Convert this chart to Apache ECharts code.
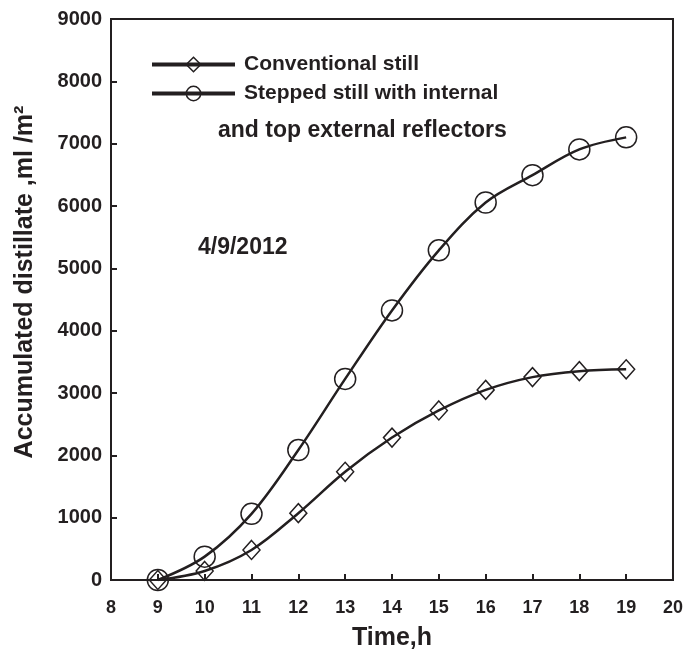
<!DOCTYPE html>
<html><head><meta charset="utf-8">
<script src="https://cdn.jsdelivr.net/npm/echarts@6/dist/echarts.min.js"></script>
<style>html,body{margin:0;padding:0;background:#fff}#c{width:686px;height:656px}</style>
</head><body><div id="c"></div>
<script>
var hours = [9, 10, 11, 12, 13, 14, 15, 16, 17, 18, 19];
var conventional = [0, 145, 482, 1072, 1736, 2285, 2720, 3050, 3255, 3350, 3380];
var stepped = [0, 375, 1061, 2085, 3226, 4325, 5289, 6056, 6495, 6908, 7101];
var seriesNames = ['Conventional still', 'Stepped still with internal'];
var legendExtra = 'and top external reflectors';
var dateLabel = '4/9/2012';
var xTitle = 'Time,h';
var yTitle = 'Accumulated distillate ,ml /m\u00B2';

var ink = '#231f20';
var font = '"Liberation Sans", Arial, sans-serif';

// detect a narrow face for the condensed x tick labels
function hasFont(name){
  var c = document.createElement('canvas').getContext('2d');
  c.font = 'bold 40px monospace'; var a = c.measureText('1313 Time').width;
  c.font = 'bold 40px "' + name + '", monospace'; var b = c.measureText('1313 Time').width;
  return Math.abs(a - b) > 0.5;
}
var narrow = hasFont('Liberation Sans Narrow');
var xLabFont = narrow ? '"Liberation Sans Narrow", sans-serif' : font;
var xLabSize = narrow ? 23 : 18;
var xTitleFont = narrow ? '"Liberation Sans Narrow", sans-serif' : font;
var xTitleSize = narrow ? 28 : 25;

function pts(arr){ return hours.map(function(h,i){ return [h, arr[i]]; }); }

var chart = echarts.init(document.getElementById('c'));
chart.setOption({
  animation: false,
  grid: { left: 111, right: 12, top: 19, bottom: 76, show: true, borderColor: ink, borderWidth: 2 },
  xAxis: {
    type: 'value', min: 8, max: 20, interval: 1,
    name: xTitle, nameLocation: 'middle', nameGap: 46,
    nameTextStyle: { fontFamily: xTitleFont, fontWeight: 'bold', fontSize: xTitleSize, color: ink },
    axisLine: { lineStyle: { color: ink, width: 2 } },
    axisTick: { inside: true, length: 6, lineStyle: { color: ink, width: 2 } },
    axisLabel: { fontFamily: xLabFont, fontWeight: 'bold', fontSize: xLabSize, color: ink, margin: 19 },
    splitLine: { show: false }
  },
  yAxis: {
    type: 'value', min: 0, max: 9000, interval: 1000,
    axisLine: { lineStyle: { color: ink, width: 2 } },
    axisTick: { inside: true, length: 6, lineStyle: { color: ink, width: 2 } },
    axisLabel: { fontFamily: font, fontWeight: 'bold', fontSize: 20, color: ink, margin: 9,
                 formatter: function(v){ return String(v); } },
    splitLine: { show: false }
  },
  legend: {
    orient: 'vertical', left: 145, top: 49, itemWidth: 83, itemHeight: 18, itemGap: 8,
    lineStyle: { width: 4, color: ink },
    itemStyle: { borderWidth: 1.5, borderColor: ink, color: 'rgba(0,0,0,0)' },
    textStyle: { fontFamily: font, fontWeight: 'bold', fontSize: 21, lineHeight: 18, color: ink, padding: [0,0,0,4] },
    data: seriesNames
  },
  graphic: [
    { type: 'text', left: 218, top: 119, style: { text: legendExtra, fontFamily: font, fontWeight: 'bold', fontSize: 23, fill: ink } },
    { type: 'text', left: 198, top: 236, style: { text: dateLabel, fontFamily: font, fontWeight: 'bold', fontSize: 23, fill: ink } },
    { type: 'text', x: 25, y: 282, rotation: Math.PI / 2,
      style: { text: yTitle, fontFamily: font, fontWeight: 'bold', fontSize: 25, fill: ink, align: 'center', verticalAlign: 'middle' } }
  ],
  series: [
    {
      name: seriesNames[0], type: 'line', smooth: 0.35, data: pts(conventional),
      symbol: 'diamond', symbolSize: [17, 19],
      lineStyle: { color: ink, width: 2.5 },
      itemStyle: { color: 'rgba(0,0,0,0)', borderColor: ink, borderWidth: 1.5 }
    },
    {
      name: seriesNames[1], type: 'line', smooth: 0.35, data: pts(stepped),
      symbol: 'circle', symbolSize: 21,
      lineStyle: { color: ink, width: 2.5 },
      itemStyle: { color: 'rgba(0,0,0,0)', borderColor: ink, borderWidth: 1.5 }
    }
  ]
});
</script></body></html>
